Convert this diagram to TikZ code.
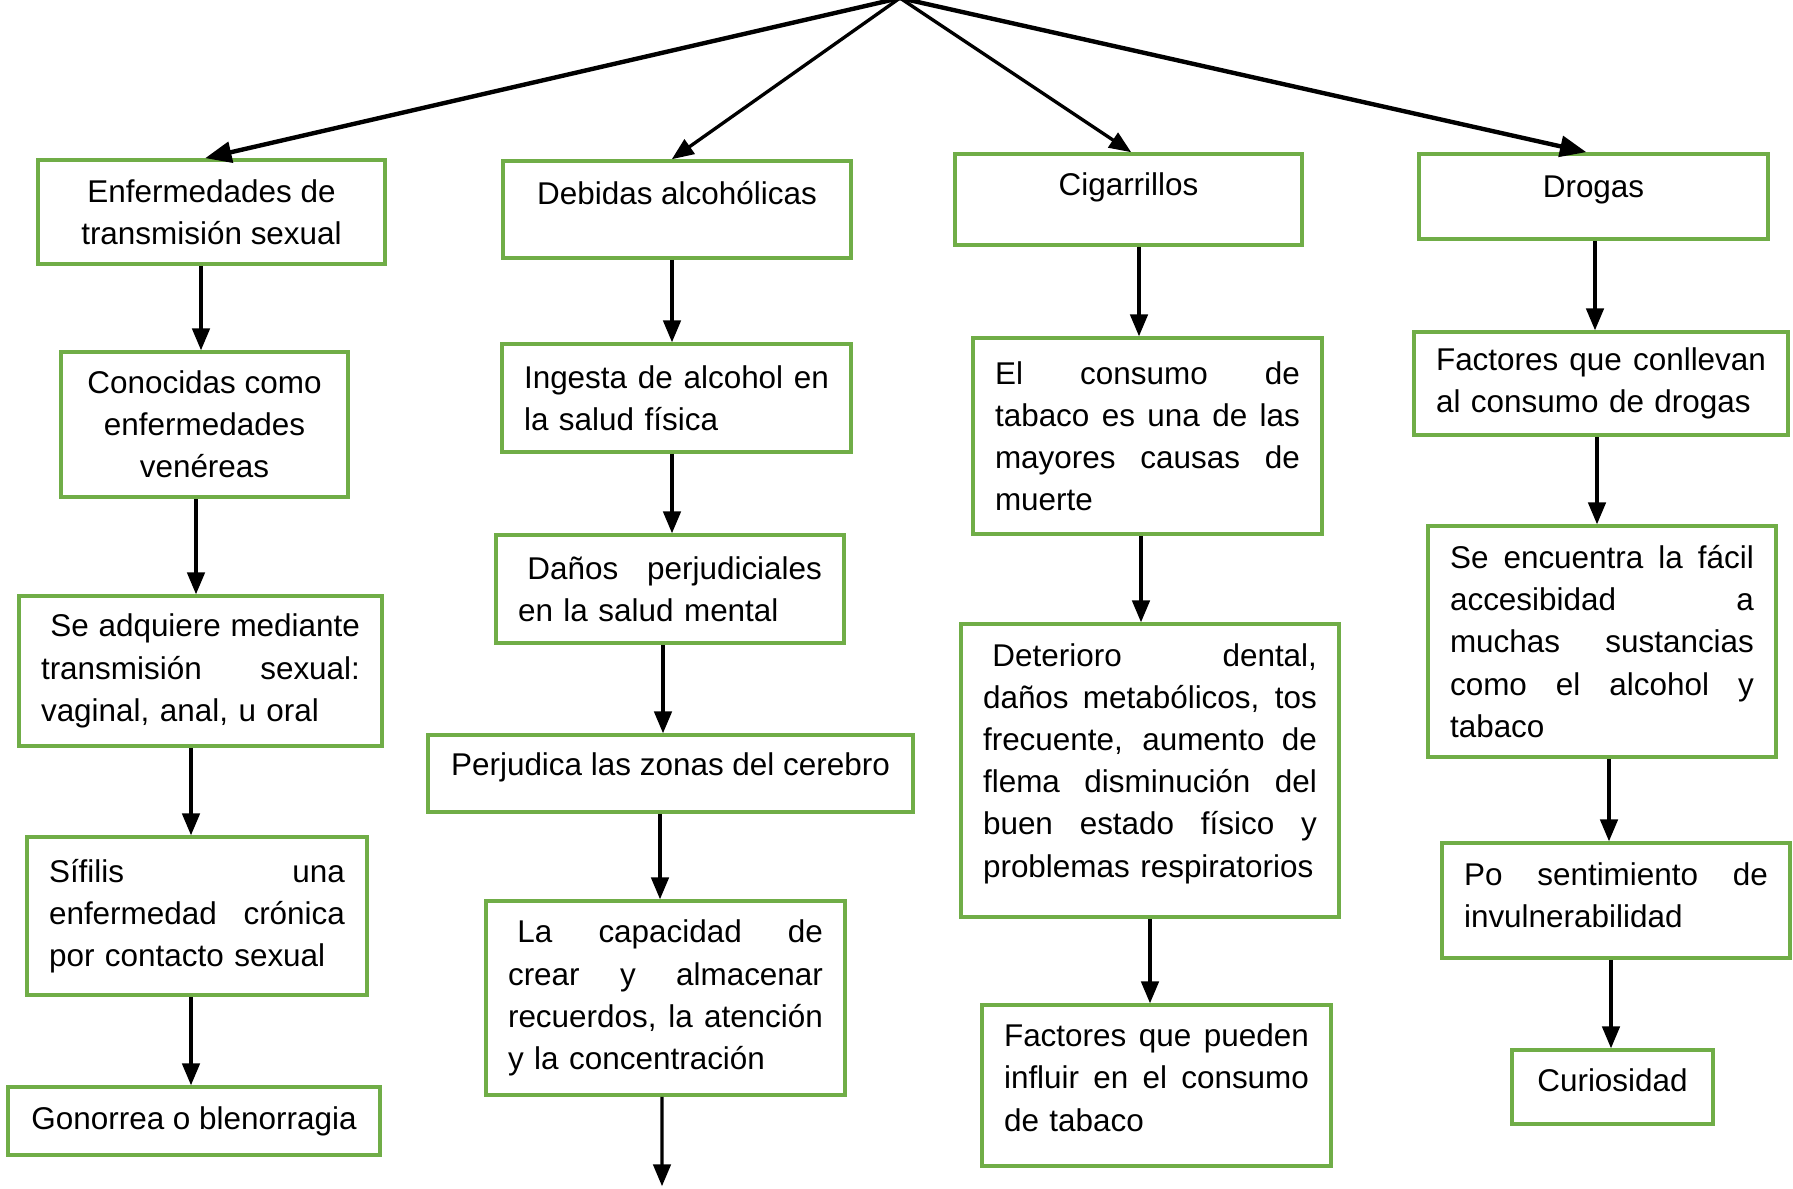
\documentclass[tikz,border=0pt]{standalone}
\usepackage{fontspec}
\setmainfont{Liberation Sans}
\usepackage{xcolor}
\usepackage{tikz}
\usetikzlibrary{positioning}
\usetikzlibrary{shapes,arrows}
\definecolor{boxgreen}{RGB}{112,173,71}
\newcommand{\jline}[1]{\makebox[\jw][s]{\spaceskip=.278em plus 1fil\xspaceskip=\spaceskip #1}\\}
\newcommand{\lift}[1]{\vrule depth #1 width 0pt height 0pt}
\tikzset{%
  block/.style  = {draw=boxgreen, line width=2.2pt, rectangle, inner xsep=0.44cm,
    inner ysep=0.1cm, align=center},
  tblock/.style = {block, align=left, text width=#1,
    execute at begin node={\def\jw{#1}}}, % justified text
  link/.style   = {->, line width=1.9pt},
  wide/.style   = {->, line width=2.5pt}
}

\begin{document}
\begin{tikzpicture}[x=0.02cm, y=-0.02cm, >=triangle 45, font=\fontsize{17.9}{24}\selectfont]
  \useasboundingbox (0,0) rectangle (1793,1188);
  \coordinate (apex) at (900,-2);

  % column 1
  \draw node at (211.5,212) [block, minimum width=6.94cm, minimum height=2.08cm] (ets) {Enfermedades de\\transmisión sexual};
  \draw node at (204.5,424.5) [block, minimum width=5.74cm, minimum height=2.90cm] (venereas) {Conocidas como\\enfermedades\\venéreas};
  \draw node at (200.5,671) [tblock=6.38cm, minimum height=3.00cm] (adquiere) {\jline{\hspace*{.3em}Se adquiere mediante}\jline{transmisión sexual:}vaginal, anal, u oral};
  \draw node at (197,916) [tblock=5.92cm, minimum height=3.16cm] (sifilis) {\jline{Sífilis una}\jline{enfermedad crónica}por contacto sexual};
  \draw node at (194,1121) [block, minimum width=7.44cm, minimum height=1.36cm] (gonorrea) {Gonorrea o blenorragia};

  % column 2
  \draw node at (677,209.5) [block, minimum width=6.96cm, minimum height=1.94cm, text depth=0.68cm] (alcohol) {Debidas alcohólicas};
  \draw node at (676.5,398) [tblock=6.10cm, minimum height=2.16cm] (ingesta) {\jline{Ingesta de alcohol en}la salud física};
  \draw node at (670,589) [tblock=6.08cm, minimum height=2.16cm] (danos) {\jline{\hspace*{.3em}Daños perjudiciales}en la salud mental};
  \draw node at (670.5,773.5) [block, minimum width=9.70cm, minimum height=1.54cm, text depth=0.36cm] (cerebro) {Perjudica las zonas del cerebro};
  \draw node at (665.5,998) [tblock=6.30cm, minimum height=3.88cm] (capacidad) {\jline{\hspace*{.3em}La capacidad de}\jline{crear y almacenar}\jline{recuerdos, la atención}y la concentración};
  \coordinate (fin) at (662,1186);

  % column 3
  \draw node at (1128.5,199.5) [block, minimum width=6.94cm, minimum height=1.82cm, text depth=0.60cm] (cigarrillos) {Cigarrillos};
  \draw node at (1147.5,436) [tblock=6.10cm, minimum height=3.92cm] (tabaco) {\jline{El consumo de}\jline{tabaco es una de las}\jline{mayores causas de}muerte};
  \draw node at (1150,770.5) [tblock=6.68cm, minimum height=5.86cm] (deterioro) {\jline{\hspace*{.3em}Deterioro dental,}\jline{daños metabólicos, tos}\jline{frecuente, aumento de}\jline{flema disminución del}\jline{buen estado físico y}problemas respiratorios\lift{0.41cm}};
  \draw node at (1156.5,1085.5) [tblock=6.10cm, minimum height=3.22cm] (factores) {\jline{Factores que pueden}\jline{influir en el consumo}de tabaco\lift{0.32cm}};

  % column 4
  \draw node at (1593.5,196.5) [block, minimum width=6.98cm, minimum height=1.70cm, text depth=0.39cm] (drogas) {Drogas};
  \draw node at (1601,383.5) [tblock=6.60cm, minimum height=2.06cm] (conllevan) {\jline{Factores que conllevan}al consumo de drogas};
  \draw node at (1602,641.5) [tblock=6.08cm, minimum height=4.62cm] (acceso) {\jline{Se encuentra la fácil}\jline{accesibidad a}\jline{muchas sustancias}\jline{como el alcohol y}tabaco};
  \draw node at (1616,900.5) [tblock=6.08cm, minimum height=2.30cm] (invul) {\jline{Po sentimiento de}invulnerabilidad\lift{0.23cm}};
  \draw node at (1612.5,1087) [block, minimum width=4.02cm, minimum height=1.48cm, text depth=0.27cm] (curiosidad) {Curiosidad};

  % from the top
  \draw[wide] (apex) -- ([xshift=-0.12cm]ets.north);
  \draw[link] (apex) -- ([xshift=-0.10cm]alcohol.north);
  \draw[link] (apex) -- ([xshift=0.05cm]cigarrillos.north);
  \draw[wide] (apex) -- ([xshift=-0.15cm]drogas.north);

  \draw[link] ([xshift=-0.21cm]ets.south) -- ([xshift=-0.21cm]ets.south |- venereas.north);
  \draw[link] ([xshift=-0.17cm]venereas.south) -- ([xshift=-0.17cm]venereas.south |- adquiere.north);
  \draw[link] ([xshift=-0.19cm]adquiere.south) -- ([xshift=-0.19cm]adquiere.south |- sifilis.north);
  \draw[link] ([xshift=-0.12cm]sifilis.south) -- ([xshift=-0.12cm]sifilis.south |- gonorrea.north);

  \draw[link] ([xshift=-0.10cm]alcohol.south) -- ([xshift=-0.10cm]alcohol.south |- ingesta.north);
  \draw[link] ([xshift=-0.09cm]ingesta.south) -- ([xshift=-0.09cm]ingesta.south |- danos.north);
  \draw[link] ([xshift=-0.14cm]danos.south) -- ([xshift=-0.14cm]danos.south |- cerebro.north);
  \draw[link] ([xshift=-0.21cm]cerebro.south) -- ([xshift=-0.21cm]cerebro.south |- capacidad.north);
  \draw[link] ([xshift=-0.07cm]capacidad.south) -- (fin);

  \draw[link] ([xshift=0.21cm]cigarrillos.south) -- ([xshift=0.21cm]cigarrillos.south |- tabaco.north);
  \draw[link] ([xshift=-0.13cm]tabaco.south) -- ([xshift=-0.13cm]tabaco.south |- deterioro.north);
  \draw[link] (deterioro.south) -- (factores.north -| deterioro.south);

  \draw[link] ([xshift=0.03cm]drogas.south) -- ([xshift=0.03cm]drogas.south |- conllevan.north);
  \draw[link] ([xshift=-0.08cm]conllevan.south) -- ([xshift=-0.08cm]conllevan.south |- acceso.north);
  \draw[link] ([xshift=0.14cm]acceso.south) -- ([xshift=0.14cm]acceso.south |- invul.north);
  \draw[link] ([xshift=-0.10cm]invul.south) -- ([xshift=-0.10cm]invul.south |- curiosidad.north);
\end{tikzpicture}
\end{document}
